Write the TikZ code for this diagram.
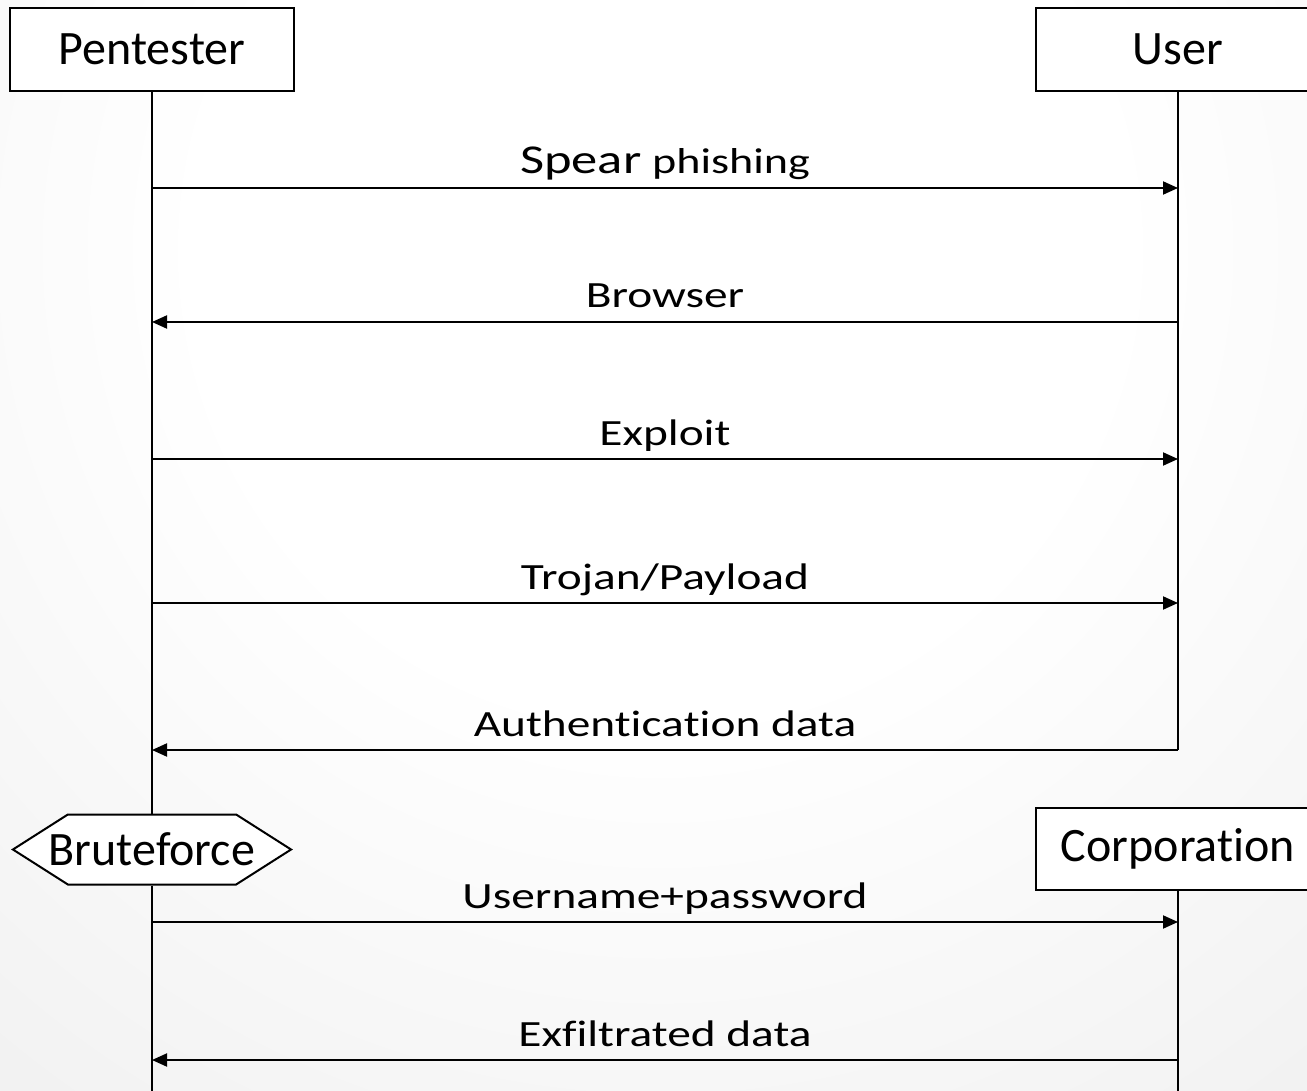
\documentclass[tikz,border=0pt]{standalone}
\usepackage{fontspec}
\usepackage{graphicx}
\setmainfont{Carlito}[Ligatures={NoCommon}]
\usetikzlibrary{arrows.meta,shapes.symbols}
\definecolor{bgout}{gray}{0.84}
\pgfdeclareradialshading{bgshade}{\pgfpointorigin}{color(0bp)=(white); color(10bp)=(white); color(50bp)=(bgout)}
\newcommand\msgtxt[1]{\scalebox{1.28}[1]{#1}}
\tikzset{
  actor/.style={draw, line width=2pt, fill=white, minimum width=284pt, minimum height=83pt, inner sep=0pt, font=\fontsize{48}{52}\selectfont},
  hexbox/.style={draw, line width=2pt, fill=white, signal, signal to=east and west, signal pointer angle=65, minimum height=70pt, inner ysep=0pt, inner xsep=-19pt, font=\fontsize{48}{52}\selectfont},
  life/.style={line width=2pt},
  msg/.style={line width=2pt, -{Triangle[length=15pt,width=13pt]}},
  lbl/.style={anchor=base, yshift=14pt, inner sep=0pt, font=\fontsize{37}{40}\selectfont}
}
\begin{document}
\begin{tikzpicture}[x=1pt,y=-1pt]
\useasboundingbox (0,0) rectangle (1307,1091);
\begin{scope}
\clip (0,0) rectangle (1307,1091);
\shade[shading=bgshade] (-490,-900) rectangle (1810,1400);
\end{scope}
% actors
\node[actor] (pen) at (152,49.5) {Pentester};
\node[actor] (usr) at (1178,49.5) {User};
\node[actor, minimum height=82pt] (corp) at (1178,849) {Corporation};
\node[hexbox] (brute) at (152,849.5) {Bruteforce};
% lifeline ends
\coordinate (bot1) at (152,1091);
\coordinate (bot2) at (1178,1091);
\coordinate (uend) at (1178,750);
\draw[life] (pen.south) -- (brute.north);
\draw[life] (brute.south) -- (bot1);
\draw[life] (usr.south) -- (uend);
\draw[life] (corp.south) -- (bot2);
% message points
\foreach \i/\y in {1/188,2/322,3/459,4/603,5/750,6/922,7/1060}{
  \coordinate (p\i) at (152,\y);
  \coordinate (u\i) at (1178,\y);
}
\draw[msg] (p1) -- node[lbl]{\msgtxt{{\fontsize{41}{44}\selectfont Spear} {\fontsize{36}{40}\selectfont phishing}}} (u1);
\draw[msg] (u2) -- node[lbl]{\msgtxt{Browser}} (p2);
\draw[msg] (p3) -- node[lbl]{\msgtxt{Exploit}} (u3);
\draw[msg] (p4) -- node[lbl]{\msgtxt{Trojan/Payload}} (u4);
\draw[msg] (u5) -- node[lbl]{\msgtxt{Authentica\kern0pt tion data}} (p5);
\draw[msg] (p6) -- node[lbl]{\msgtxt{Username+password}} (u6);
\draw[msg] (u7) -- node[lbl]{\msgtxt{Exfiltrated data}} (p7);
\end{tikzpicture}
\end{document}
